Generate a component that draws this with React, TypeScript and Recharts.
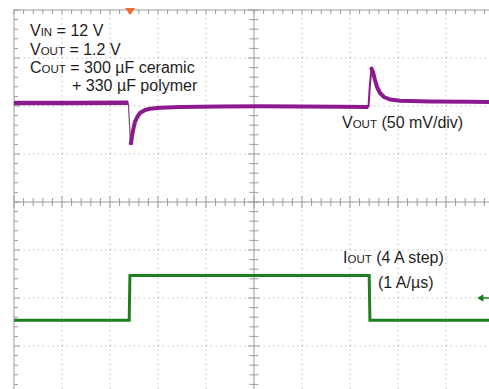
import React from "react";
import { LineChart, Line, XAxis, YAxis, ReferenceLine, ReferenceDot } from "recharts";

// scope screen: 10 divisions across, 8 divisions down; values below are in divisions
const divX = [0, 1, 2, 3, 4, 5, 6, 7, 8, 9, 10];
const divY = [-4, -3, -2, -1, 0, 1, 2, 3, 4];

// VOUT trace (ch1)
const voutBefore = [
  { t: 0, v: 2.06 },
  { t: 1.2, v: 2.062 },
  { t: 2.381, v: 2.067 },
];
const voutDrop = [
  { t: 2.381, v: 2.067 },
  { t: 2.431, v: 1.19 },
];
const voutRecover = [
  { t: 2.431, v: 1.19 },
  { t: 2.458, v: 1.375 },
  { t: 2.49, v: 1.54 },
  { t: 2.521, v: 1.673 },
  { t: 2.573, v: 1.781 },
  { t: 2.625, v: 1.854 },
  { t: 2.729, v: 1.917 },
  { t: 2.833, v: 1.942 },
  { t: 3.042, v: 1.963 },
  { t: 3.458, v: 1.979 },
  { t: 4.292, v: 1.99 },
  { t: 5.125, v: 1.994 },
  { t: 5.958, v: 1.99 },
  { t: 6.792, v: 1.983 },
  { t: 7.385, v: 1.979 },
];
const voutRise = [
  { t: 7.385, v: 1.979 },
  { t: 7.415, v: 2.45 },
  { t: 7.448, v: 2.781 },
];
const voutSettle = [
  { t: 7.448, v: 2.781 },
  { t: 7.479, v: 2.708 },
  { t: 7.521, v: 2.542 },
  { t: 7.563, v: 2.396 },
  { t: 7.625, v: 2.271 },
  { t: 7.708, v: 2.188 },
  { t: 7.833, v: 2.135 },
  { t: 8.042, v: 2.108 },
  { t: 8.667, v: 2.094 },
  { t: 9.5, v: 2.088 },
  { t: 10, v: 2.083 },
];

// IOUT trace (ch2)
const iout = [
  { t: 0, v: -2.465 },
  { t: 2.4, v: -2.465 },
  { t: 2.415, v: -1.53 },
  { t: 7.4, v: -1.53 },
  { t: 7.415, v: -2.465 },
  { t: 10, v: -2.465 },
];

const triggerT = 2.42;
const ch2Ground = -2;

const PURPLE = "#8c1a8f";
const GREEN = "#1f7f1f";
const AXIS = "#9a9a9a";
const GRID = "#b0b0b0";

const minorX = Array.from({ length: 51 }, (_, i) => +(i * 0.2).toFixed(2));
const minorY = Array.from({ length: 41 }, (_, i) => +(-4 + i * 0.2).toFixed(2));
const isMajor = (n: number) => Math.abs(n - Math.round(n)) < 0.01;

const PX = 1 / 48; // one pixel in divisions

const Triangle = (p: any) => (
  <path d={`M${p.cx - 5},${p.cy - 2} L${p.cx + 5},${p.cy - 2} L${p.cx},${p.cy + 5} Z`} fill="#f26d2b" />
);
const GroundArrow = (p: any) => (
  <g stroke={GREEN} fill={GREEN}>
    <line x1={p.cx - 2} y1={p.cy} x2={p.cx + 6} y2={p.cy} strokeWidth={1.5} />
    <path d={`M${p.cx - 5},${p.cy} L${p.cx},${p.cy - 3} L${p.cx},${p.cy + 3} Z`} />
  </g>
);

const Sub = ({ children }: { children: string }) => <tspan fontSize={11.5}>{children}</tspan>;

export default function App() {
  return (
    <div style={{ position: "absolute", left: 0, top: 0, width: 489, height: 389, overflow: "hidden", background: "#fff" }}>
      <LineChart width={500} height={400} margin={{ top: 10, right: 6, bottom: 6, left: 14 }}>
        <XAxis type="number" dataKey="t" domain={[0, 10]} allowDataOverflow hide />
        <YAxis type="number" dataKey="v" domain={[-4, 4]} allowDataOverflow hide />

        {divX.slice(1, -1).filter((x) => x !== 5).map((x) => (
          <ReferenceLine key={"gx" + x} x={x} stroke={GRID} strokeDasharray="1.2 3.6" />
        ))}
        {divY.slice(1, -1).filter((y) => y !== 0).map((y) => (
          <ReferenceLine key={"gy" + y} y={y} stroke={GRID} strokeDasharray="1.2 3.6" />
        ))}

        <ReferenceLine x={0} stroke={AXIS} />
        <ReferenceLine y={4} stroke={AXIS} />
        <ReferenceLine x={5} stroke={AXIS} />
        <ReferenceLine y={0} stroke={AXIS} />

        {minorX.map((x) => (
          <ReferenceLine key={"tt" + x} segment={[{ x, y: 4 }, { x, y: 4 - 4 * PX }]} stroke={AXIS} />
        ))}
        {minorY.map((y) => (
          <ReferenceLine key={"lt" + y} segment={[{ x: 0, y }, { x: (isMajor(y) ? 6 : 4) * PX, y }]} stroke={AXIS} />
        ))}
        {minorX.map((x) => {
          const h = (isMajor(x) ? 6 : 4) * PX;
          return <ReferenceLine key={"ct" + x} segment={[{ x, y: -h }, { x, y: h }]} stroke={AXIS} />;
        })}
        {minorY.map((y) => {
          const w = (isMajor(y) ? 6 : 4.5) * PX;
          return <ReferenceLine key={"cv" + y} segment={[{ x: 5 - w, y }, { x: 5 + w, y }]} stroke={AXIS} />;
        })}

        <Line data={voutBefore} dataKey="v" stroke={PURPLE} strokeWidth={4.5} dot={false} isAnimationActive={false} />
        <Line data={voutDrop} dataKey="v" stroke="#7a4a7c" strokeWidth={1.2} dot={false} isAnimationActive={false} />
        <Line data={voutRecover} dataKey="v" stroke={PURPLE} strokeWidth={4} strokeLinejoin="round" dot={false} isAnimationActive={false} />
        <Line data={voutRise} dataKey="v" stroke={PURPLE} strokeWidth={2} dot={false} isAnimationActive={false} />
        <Line data={voutSettle} dataKey="v" stroke={PURPLE} strokeWidth={4} strokeLinejoin="round" strokeLinecap="round" dot={false} isAnimationActive={false} />
        <Line data={iout} dataKey="v" stroke={GREEN} strokeWidth={3} dot={false} isAnimationActive={false} />

        <ReferenceDot x={triggerT} y={4} r={5} shape={Triangle} ifOverflow="visible" />
        <ReferenceDot x={9.77} y={ch2Ground} r={4} shape={GroundArrow} ifOverflow="visible" />
      </LineChart>

      <svg width={489} height={389} style={{ position: "absolute", left: 0, top: 0, pointerEvents: "none" }}
        fontFamily="'Liberation Sans', Arial, sans-serif" fontSize={16} fill="#1e1e1e">
        <text x={30} y={36}>V<Sub>IN</Sub> = 12 V</text>
        <text x={30} y={54.5}>V<Sub>OUT</Sub> = 1.2 V</text>
        <text x={30} y={72.7}>C<Sub>OUT</Sub> = 300 µF ceramic</text>
        <text x={72} y={91}>+ 330 µF polymer</text>
        <text x={342} y={128.3}>V<Sub>OUT</Sub> (50 mV/div)</text>
        <text x={343} y={263.3}>I<Sub>OUT</Sub> (4 A step)</text>
        <text x={378} y={288.3}>(1 A/µs)</text>
      </svg>
    </div>
  );
}
